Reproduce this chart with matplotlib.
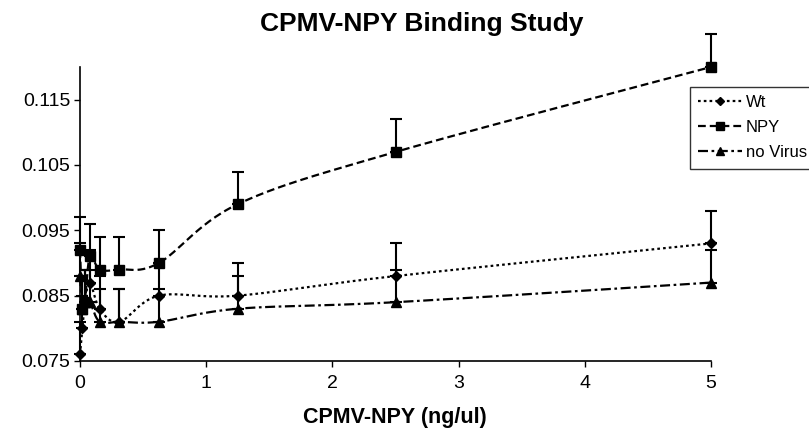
import numpy as np
import matplotlib
matplotlib.use("Agg")
import matplotlib.pyplot as plt
from matplotlib.lines import Line2D

plt.rcParams['font.family'] = ['Liberation Sans', 'DejaVu Sans']

# Concentration series (ng/ul) and absorbance readings
conc = [0, 0.0195, 0.039, 0.078, 0.156, 0.3125, 0.625, 1.25, 2.5, 5]
wt = [0.076, 0.080, 0.084, 0.087, 0.083, 0.081, 0.085, 0.085, 0.088, 0.093]
npy = [0.092, 0.083, 0.084, 0.091, 0.089, 0.089, 0.090, 0.099, 0.107, 0.120]
no_virus = [0.088, 0.083, 0.084, 0.084, 0.081, 0.081, 0.081, 0.083, 0.084, 0.087]

# Upper error bar lengths
wt_err = [0.005] * 10
npy_err = [0.005] * 10
no_virus_err = [0.005] * 10

y_ticks = [0.075, 0.085, 0.095, 0.105, 0.115]
x_ticks = [0, 1, 2, 3, 4, 5]


def smooth(x, y, n=30):
    """Catmull-Rom style smoothing through every point."""
    x = np.asarray(x, float)
    y = np.asarray(y, float)
    px = np.concatenate([[x[0]], x, [x[-1]]])
    py = np.concatenate([[y[0]], y, [y[-1]]])
    xs, ys = [], []
    t = np.linspace(0, 1, n)
    for i in range(1, len(px) - 2):
        p0 = np.array([px[i], py[i]])
        p3 = np.array([px[i + 1], py[i + 1]])
        c1 = p0 + (p3 - np.array([px[i - 1], py[i - 1]])) / 6.0
        c2 = p3 - (np.array([px[i + 2], py[i + 2]]) - p0) / 6.0
        b = ((1 - t) ** 3)[:, None] * p0 + (3 * (1 - t) ** 2 * t)[:, None] * c1 \
            + (3 * (1 - t) * t ** 2)[:, None] * c2 + (t ** 3)[:, None] * p3
        xs.append(b[:, 0])
        ys.append(b[:, 1])
    return np.concatenate(xs), np.concatenate(ys)


fig = plt.figure(figsize=(8.09, 4.30), dpi=100)
ax = fig.add_axes([0.0989, 0.1605, 0.78, 0.6837])

series = [
    ("Wt", wt, wt_err, "D", 5.5, (0, (1.2, 1.4))),
    ("NPY", npy, npy_err, "s", 6.5, (0, (3.5, 1.8))),
    ("no Virus", no_virus, no_virus_err, "^", 7, (0, (4.5, 1.6, 1.2, 1.6))),
]

handles = []
for name, vals, err, mk, ms, ls in series:
    sx, sy = smooth(conc, vals)
    ax.plot(sx, sy, color="black", lw=1.6, linestyle=ls, clip_on=False, zorder=3)
    ax.errorbar(conc, vals, yerr=[np.zeros(len(err)), err], fmt="none",
                ecolor="black", elinewidth=1.5, capsize=4, capthick=1.5,
                clip_on=False, zorder=2)
    ax.plot(conc, vals, linestyle="none", marker=mk, markersize=ms,
            color="black", clip_on=False, zorder=4)
    handles.append(Line2D([], [], color="black", lw=1.6, linestyle=ls,
                          marker=mk, markersize=ms - 1))

ax.set_xlim(0, 5)
ax.set_ylim(0.075, 0.12)
ax.set_xticks(x_ticks)
ax.set_xticklabels([str(v) for v in x_ticks])
ax.set_yticks(y_ticks)
ax.set_yticklabels([f"{v:.3f}" for v in y_ticks])
ax.tick_params(axis="both", labelsize=14, length=4, width=1, direction="out",
               color="black")
ax.tick_params(axis="y", pad=3)
ax.tick_params(axis="x", pad=6)

for s in ["top", "right"]:
    ax.spines[s].set_visible(False)
for s in ["left", "bottom"]:
    ax.spines[s].set_linewidth(1.2)

fig.text(0.5216, 0.944, "CPMV-NPY Binding Study", ha="center", va="center",
         fontsize=19, fontweight="bold")
fig.text(0.488, 0.028, "CPMV-NPY (ng/ul)", ha="center", va="center",
         fontsize=15.5, fontweight="bold")

leg = fig.legend(handles, ["Wt", "NPY", "no Virus"], loc="upper left",
                 bbox_to_anchor=(0.853, 0.798), fontsize=12, frameon=True,
                 fancybox=False, edgecolor="black", numpoints=1,
                 handlelength=2.6, handletextpad=0.25, borderpad=0.5,
                 labelspacing=0.6, borderaxespad=0)
leg.get_frame().set_linewidth(1.0)

fig.savefig("out.png", dpi=100)
